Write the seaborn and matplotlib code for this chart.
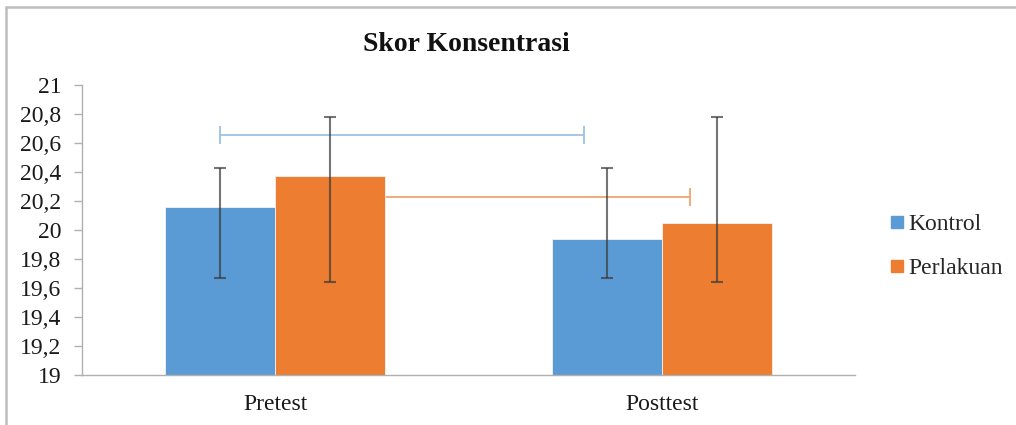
import matplotlib
matplotlib.use("Agg")
import matplotlib.pyplot as plt
import seaborn as sns
import pandas as pd
from matplotlib.lines import Line2D

# ---- data ----
categories = ["Pretest", "Posttest"]
groups = ["Kontrol", "Perlakuan"]
kontrol = [20.16, 19.94]
perlakuan = [20.37, 20.05]
kontrol_err_low = [19.67, 19.67]
kontrol_err_high = [20.43, 20.43]
perlakuan_err_low = [19.64, 19.64]
perlakuan_err_high = [20.78, 20.78]
# comparison lines (level, x-start, x-end in category units)
kontrol_line = [20.657, -0.142, 0.798]
perlakuan_line = [20.228, 0.142, 1.072]
ytick_values = [19, 19.2, 19.4, 19.6, 19.8, 20, 20.2, 20.4, 20.6, 20.8, 21]
ytick_labels = ["19", "19,2", "19,4", "19,6", "19,8", "20", "20,2", "20,4", "20,6", "20,8", "21"]
colors = ["#5B9BD5", "#ED7D31"]

df = pd.DataFrame({
    "Tes": categories * 2,
    "Kelompok": [groups[0]] * 2 + [groups[1]] * 2,
    "Skor": kontrol + perlakuan,
})

sns.set_theme(style="white")
plt.rcParams["font.family"] = ["Liberation Serif", "DejaVu Serif"]

fig = plt.figure(figsize=(10.16, 4.25), dpi=100)
ax = fig.add_axes([0.0807, 0.1176, 0.7608, 0.6824])

sns.barplot(data=df, x="Tes", y="Skor", hue="Kelompok", order=categories,
            hue_order=groups, palette=colors, saturation=1, width=0.57,
            errorbar=None, ax=ax, legend=False, zorder=2, linewidth=0.6,
            edgecolor="#f3f3f3")

# error bars at bar centers
lows = kontrol_err_low + perlakuan_err_low
highs = kontrol_err_high + perlakuan_err_high
vals = kontrol + perlakuan
for i, (p, v, lo, hi) in enumerate(zip(ax.patches, vals, lows, highs)):
    xc = p.get_x() + p.get_width() / 2
    ax.errorbar([xc], [v], yerr=[[v - lo], [hi - v]], fmt="none",
                ecolor="#3a3a3a", elinewidth=1.5, capsize=4, capthick=1.5,
                alpha=0.7, zorder=4)

# comparison lines
ax.plot([kontrol_line[1], kontrol_line[2]], [kontrol_line[0]] * 2,
        color="#9DC3E6", lw=1.3, marker="|", markersize=13, mew=1.3, zorder=3)
ax.plot([perlakuan_line[1], perlakuan_line[2]], [perlakuan_line[0]] * 2,
        color="#F4A46E", lw=1.3, zorder=1)
ax.plot([perlakuan_line[2]], [perlakuan_line[0]], color="#F4A46E",
        marker="|", markersize=13, mew=1.3, zorder=3)

ax.set_xlim(-0.5, 1.5)
ax.set_ylim(19, 21)
ax.set_yticks(ytick_values)
ax.set_yticklabels(ytick_labels, fontsize=17, color="#1a1a1a")
ax.set_xticks([0, 1])
ax.set_xticklabels(categories, fontsize=17, color="#1a1a1a")
ax.set_xticks([-0.5, 0.5, 1.5], minor=True)
ax.tick_params(axis="x", which="major", length=0, pad=14)
ax.tick_params(axis="x", which="minor", length=6, color="#b0b0b0", width=1, direction="out")
ax.tick_params(axis="y", length=6, color="#b0b0b0", width=1, direction="out", pad=9, left=True)
ax.set_xlabel("")
ax.set_ylabel("")
for s in ["top", "right"]:
    ax.spines[s].set_visible(False)
for s in ["left", "bottom"]:
    ax.spines[s].set_color("#b0b0b0")
    ax.spines[s].set_linewidth(1)

fig.text(0.459, 0.895, "Skor Konsentrasi", ha="center", va="center",
         fontsize=20, fontweight="bold", color="#111111")

handles = [Line2D([], [], marker="s", linestyle="none", markersize=8,
                  markerfacecolor=c, markeredgecolor=c) for c in colors]
fig.legend(handles, groups, loc="center left", bbox_to_anchor=(0.863, 0.42),
           frameon=False, fontsize=17, handletextpad=0.05, labelspacing=0.95,
           handlelength=0.9, borderaxespad=0)

# outer frame (top and left visible)
fig.add_artist(Line2D([6 / 1016, 1], [1 - 7 / 425] * 2, transform=fig.transFigure,
                      color="#bdbdbd", lw=1.8))
fig.add_artist(Line2D([6 / 1016] * 2, [0, 1 - 7 / 425], transform=fig.transFigure,
                      color="#bdbdbd", lw=1.8))

fig.savefig("out.png", dpi=100)
